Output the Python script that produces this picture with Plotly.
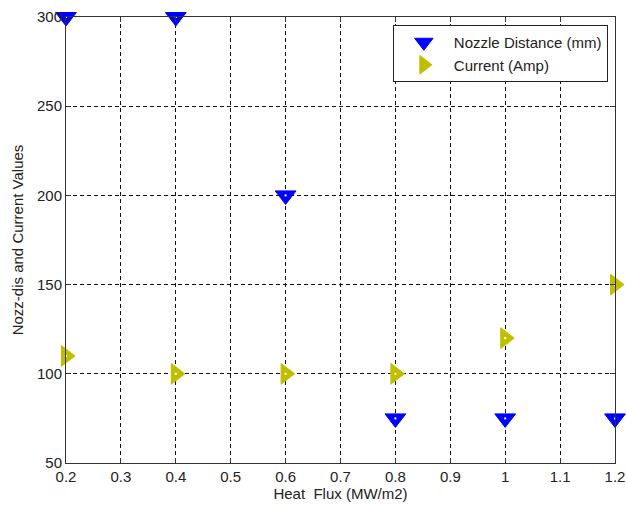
import plotly.graph_objects as go

heat_flux = [0.2, 0.4, 0.6, 0.8, 1.0, 1.2]
nozzle_distance = [300, 300, 200, 75, 75, 75]
current = [110, 100, 100, 100, 120, 150]

x_ticks = [0.2, 0.3, 0.4, 0.5, 0.6, 0.7, 0.8, 0.9, 1.0, 1.1, 1.2]
x_tick_labels = ["0.2", "0.3", "0.4", "0.5", "0.6", "0.7", "0.8", "0.9", "1", "1.1", "1.2"]
y_ticks = [50, 100, 150, 200, 250, 300]

BLUE = "rgb(0,0,255)"
OLIVE = "rgb(191,191,0)"
FONT = "Liberation Sans, Arial, sans-serif"

fig = go.Figure()
fig.add_trace(go.Scatter(
    x=heat_flux, y=nozzle_distance, mode="markers", name="Nozzle Distance (mm)",
    marker=dict(symbol="triangle-down", size=18, color=BLUE, line=dict(width=1, color=BLUE)),
    cliponaxis=False,
))
fig.add_trace(go.Scatter(
    x=heat_flux, y=current, mode="markers", name="Current (Amp)",
    marker=dict(symbol="triangle-right", size=18, color=OLIVE, line=dict(width=1, color=OLIVE)),
    cliponaxis=False,
))
# small white centre dots (MATLAB marker look)
for yv in (nozzle_distance, current):
    fig.add_trace(go.Scatter(
        x=heat_flux, y=yv, mode="markers", showlegend=False, hoverinfo="skip",
        marker=dict(symbol="square", size=2, color="white"), cliponaxis=False,
    ))

axis_common = dict(
    showline=True, linecolor="#333", linewidth=1, mirror="ticks",
    ticks="inside", ticklen=5, tickcolor="#333",
    showgrid=True, gridcolor="#111", griddash="4px,3px", gridwidth=1,
    zeroline=False, automargin=False,
    tickfont=dict(family=FONT, size=15, color="#222"),
)

fig.update_xaxes(
    range=[0.2, 1.2], tickvals=x_ticks, ticktext=x_tick_labels,
    title=dict(text="Heat\u00a0\u00a0Flux (MW/m2)", font=dict(family=FONT, size=15, color="#222"), standoff=4),
    **axis_common,
)
fig.update_yaxes(
    range=[50, 300], tickvals=y_ticks,
    title=dict(text="Nozz-dis and Current Values", font=dict(family=FONT, size=15, color="#222"), standoff=9),
    **axis_common,
)

fig.update_layout(
    width=626, height=505,
    margin=dict(l=66, r=11, t=17, b=42),
    plot_bgcolor="white", paper_bgcolor="white",
    showlegend=True,
    legend=dict(
        x=0.987, y=0.982, xanchor="right", yanchor="top",
        bgcolor="white", bordercolor="#222", borderwidth=1,
        font=dict(family=FONT, size=15, color="#222"),
        tracegroupgap=0, itemwidth=50,
    ),
)

fig.write_html("out.html", config={"displayModeBar": False},
               post_script="document.body.style.margin='0';")
